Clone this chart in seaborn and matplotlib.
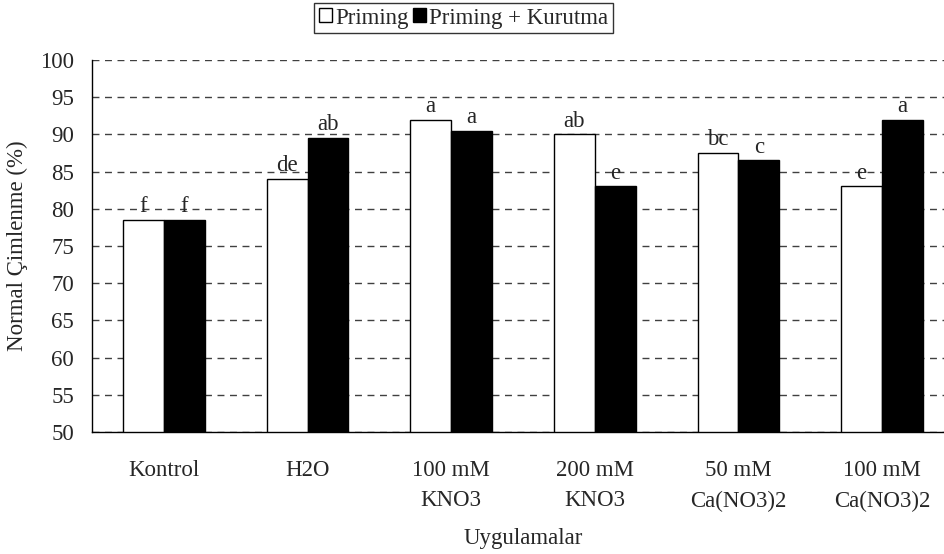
import pandas as pd
import numpy as np
import matplotlib
matplotlib.use("Agg")
import matplotlib.pyplot as plt
import seaborn as sns
from matplotlib.ticker import MultipleLocator, FixedLocator

# chart data
categories = ["Kontrol", "H2O", "100 mM\nKNO3", "200 mM\nKNO3", "50 mM\nCa(NO3)2", "100 mM\nCa(NO3)2"]
series = ["Priming", "Priming + Kurutma"]
priming = [78.5, 84.0, 92.0, 90.0, 87.5, 83.0]
priming_kurutma = [78.5, 89.5, 90.5, 83.0, 86.5, 92.0]
letters_priming = ["f", "de", "a", "ab", "bc", "e"]
letters_kurutma = ["f", "ab", "a", "e", "c", "a"]

df = pd.DataFrame({
    "Uygulama": categories * 2,
    "Seri": [series[0]] * len(categories) + [series[1]] * len(categories),
    "Deger": priming + priming_kurutma,
})

sns.set_style("white")
plt.rcParams["font.family"] = ["Liberation Serif", "DejaVu Serif"]
fs = 16.5
plt.rcParams["font.size"] = fs

fig = plt.figure(figsize=(9.44, 5.54), dpi=100)
ax = fig.add_axes([0.0975, 0.2202, 0.913, 0.6715])

sns.barplot(data=df, x="Uygulama", y="Deger", hue="Seri", order=categories,
            palette=["white", "black"], edgecolor="black", linewidth=1.0,
            width=0.57, gap=0, ax=ax, legend=False, err_kws={"linewidth": 0})

ax.set_ylim(50, 100)
ax.set_xlim(-0.5, 5.5)
ax.yaxis.set_major_locator(MultipleLocator(5))
ax.yaxis.grid(True, linestyle=(0, (5, 4)), color="#404040", linewidth=1.0)
ax.set_axisbelow(True)

# category boundary ticks
ax.xaxis.set_minor_locator(FixedLocator(np.arange(-0.5, 6.0, 1.0)))
ax.tick_params(axis="x", which="major", length=0, pad=20, labelsize=fs)
ax.tick_params(axis="x", which="minor", length=5, width=1, color="black", direction="out")
ax.tick_params(axis="y", length=5, width=1, color="black", direction="out", pad=8, labelsize=fs)
ax.set_xticks(range(len(categories)))
ax.set_xticklabels(categories, linespacing=1.6)

for s in ["top", "right"]:
    ax.spines[s].set_visible(False)
for s in ["left", "bottom"]:
    ax.spines[s].set_color("black")
    ax.spines[s].set_linewidth(1.0)

# significance letters
offset = 0.57 / 4
for i, (v1, v2) in enumerate(zip(priming, priming_kurutma)):
    ax.annotate(letters_priming[i], (i - offset, v1), xytext=(0, 2),
                textcoords="offset points", ha="center", va="bottom", fontsize=fs)
    ax.annotate(letters_kurutma[i], (i + offset, v2), xytext=(0, 2),
                textcoords="offset points", ha="center", va="bottom", fontsize=fs)

ax.set_ylabel("Normal Çimlenme (%)", fontsize=fs)
ax.yaxis.set_label_coords(-0.074, 0.5)
ax.set_xlabel("Uygulamalar", fontsize=fs, labelpad=11.5)

handles = [plt.Rectangle((0, 0), 1, 1, facecolor=c, edgecolor="black", linewidth=1)
           for c in ["white", "black"]]
leg = fig.legend(handles, series, loc="center", bbox_to_anchor=(0.491, 0.9675), ncol=2,
                 frameon=True, fancybox=False, edgecolor="black", fontsize=fs,
                 handlelength=0.55, handleheight=0.55, handletextpad=0.15, columnspacing=0.2,
                 borderpad=0.2, borderaxespad=0)
leg.get_frame().set_linewidth(1.0)

fig.savefig("out.png", dpi=100)
